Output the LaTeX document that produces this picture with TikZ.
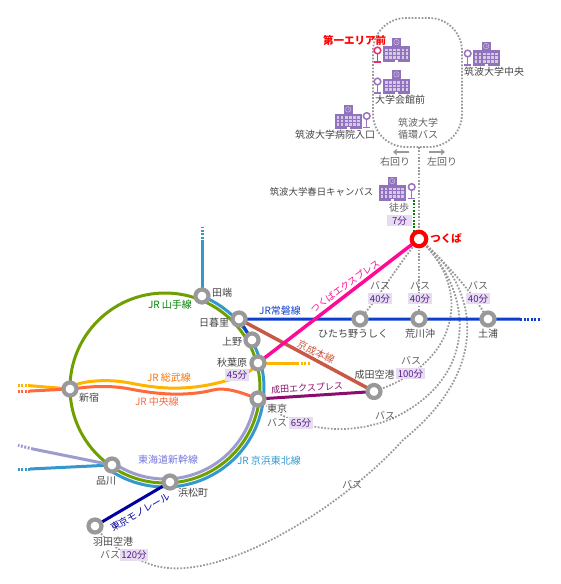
\documentclass[tikz,border=0pt]{standalone}
\usepackage{fontspec}
\setmainfont{Noto Sans CJK JP}
\usetikzlibrary{arrows.meta}
\pgfdeclarelayer{bg}
\pgfsetlayers{bg,main}
\definecolor{cgreen}{HTML}{6F9F00}
\definecolor{cblue}{HTML}{3399CC}
\definecolor{cshin}{HTML}{9C9CCF}
\definecolor{cjoban}{HTML}{0F3FCF}
\definecolor{ckei}{HTML}{C85A45}
\definecolor{csobu}{HTML}{FFB400}
\definecolor{cchuo}{HTML}{FF6A3C}
\definecolor{cnex}{HTML}{8B0B6E}
\definecolor{ctx}{HTML}{FF0A96}
\definecolor{cmono}{HTML}{0000A0}
\definecolor{cbuild}{HTML}{9172BC}
\definecolor{cstop}{HTML}{9A70C0}
\definecolor{cpink}{HTML}{E8306A}
\definecolor{cbox}{HTML}{E6DDF0}
\definecolor{cboxt}{HTML}{5A1A8A}
\definecolor{ctext}{HTML}{444444}
\definecolor{cdot}{HTML}{999999}
\tikzset{
  station/.style={circle,draw=cdot,fill=white,line width=4.2pt,minimum size=13pt,inner sep=0pt,outer sep=0pt},
  hub/.style={circle,draw=red,fill=white,line width=4.2pt,minimum size=14.5pt,inner sep=0pt,outer sep=0pt},
  lbl/.style={text=ctext,inner sep=0pt,font=\fontsize{10}{12}\selectfont},
  halo/.style={lbl,fill=white,inner sep=0.5pt},
  soft/.style={lbl,text=black!62},
  linelbl/.style={inner sep=0pt,font=\fontsize{10}{12}\selectfont},
  timebox/.style={fill=cbox,text=cboxt,inner sep=1.5pt,minimum height=11.5pt,font=\fontsize{9.5}{11}\selectfont},
  rail/.style={line width=3pt},
  busdot/.style={draw=cdot,line width=1.8pt,dash pattern=on 1.7pt off 1.6pt},
  raildash/.style={line width=3pt,dash pattern=on 2pt off 1.5pt},
  turn/.style={draw=cdot,line width=1.1pt,-{Straight Barb[length=3pt,width=5pt]}}
}
\newcommand{\bldg}[2]{%
  \begin{scope}[shift={(#1,#2)}]
    \fill[cbuild] (9,0) rectangle (17.5,9);
    \fill[cbuild] (0,8.5) rectangle (26.5,24);
    \draw[white!55!cbuild,line width=0.5pt] (13.2,4.4) circle (2.7);
    \draw[white!55!cbuild,line width=0.4pt] (13.2,2.6) -- (13.2,4.4) -- (14.6,5.2);
    \foreach \r in {11,14.7,18.4}
      \foreach \c in {1.8,5.9,10,14.1,18.2,22.3}
        \fill[white!62!cbuild] (\c,\r) rectangle ++(2.5,2.5);
    \fill[white] (11.5,22.2) rectangle (15,24);
  \end{scope}}
\newcommand{\stopmark}[3]{%
  \draw[#3,line width=1.5pt] (#1,#2+3) -- (#1,#2+11.5);
  \draw[#3,line width=1.5pt] (#1-3.5,#2+11.5) -- (#1+3.5,#2+11.5);
  \draw[#3,line width=1.5pt,fill=white] (#1,#2) circle (3.3);}
\begin{document}
\begin{tikzpicture}[x=1pt,y=-1pt]
\useasboundingbox (0,0) rectangle (560,584);

% stations
\node[station] (tabata) at (202,296) {};
\node[station] (nippori) at (239,319) {};
\node[station] (ueno) at (252,340) {};
\node[station] (akiba) at (258,363) {};
\node[station] (tokyo) at (258,399) {};
\node[station] (shinjuku) at (70,389) {};
\node[station] (shinagawa) at (112,465) {};
\node[station] (hamamatsu) at (170,482) {};
\node[station] (haneda) at (95,526) {};
\node[station] (narita) at (374,391.5) {};
\node[station] (hitachino) at (360,319) {};
\node[station] (arakawa) at (419,319) {};
\node[station] (tsuchiura) at (488,319) {};
\node[hub] (tsukuba) at (419,239) {};

% free ends
\coordinate (tabataN) at (202,242);
\coordinate (tabataE) at (202,227);
\coordinate (jobanE) at (520,319);
\coordinate (jobanF) at (541,319);
\coordinate (sobuW) at (30,385.7);
\coordinate (sobuF) at (18,385.7);
\coordinate (chuoW) at (30,391);
\coordinate (chuoF) at (18,391);
\coordinate (sobuE) at (297,363);
\coordinate (sobuG) at (310,363);
\coordinate (keihinW) at (30,469);
\coordinate (keihinF) at (18,469);
\coordinate (shinW) at (33,449);
\coordinate (shinF) at (18,445.3);
\coordinate (loopS) at (419,147);
\coordinate (walkN) at (414,200);
\coordinate (walkS) at (414,232);
\coordinate (rA) at (409,152);
\coordinate (rB) at (393,152);
\coordinate (lA) at (429,152);
\coordinate (lB) at (445,152);

\begin{pgfonlayer}{bg}
  % bus
  \draw[busdot,rounded corners=33pt] (373,18) rectangle (462,147);
  \draw[busdot] (loopS) -- (tsukuba);
  \draw[busdot] (tsukuba) .. controls (395,270) and (380,295) .. (hitachino);
  \draw[busdot] (tsukuba) -- (arakawa);
  \draw[busdot] (tsukuba) .. controls (445,262) and (470,290) .. (tsuchiura);
  \draw[busdot] (tsukuba) .. controls (470,290) and (460,360) .. (narita);
  \draw[busdot] (tsukuba) .. controls (470,290) and (480,370) .. (403,413) .. controls (370,432) and (310,440) .. (tokyo);
  \draw[busdot] (tsukuba) .. controls (480,290) and (490,370) .. (403,440) .. controls (340,510) and (210,590) .. (147,563) .. controls (125,555) and (110,545) .. (haneda);
  \draw[draw=green!50!black,line width=1.8pt,dash pattern=on 1.8pt off 1.5pt] (walkN) -- (walkS);

  % lines
  \draw[rail,cgreen] (165,388) circle (95);
  \draw[rail,cblue] plot[smooth,domain=-68:124.5,samples=70] ({165+99*cos(\x)},{388+99*sin(\x)});
  \draw[rail,cshin] plot[smooth,domain=7:122,samples=60] ({165+91*cos(\x)},{388+91*sin(\x)});
  \draw[rail,cblue] (tabata) -- (tabataN);
  \draw[raildash,cblue] (tabataN) -- (tabataE);
  \draw[rail,cblue] (shinagawa) -- (keihinW);
  \draw[raildash,cblue] (keihinW) -- (keihinF);
  \draw[rail,cshin] (shinagawa) -- (shinW);
  \draw[raildash,cshin] (shinW) -- (shinF);
  \draw[rail,cjoban] (ueno) -- (nippori) -- (jobanE);
  \draw[raildash,cjoban] (jobanE) -- (jobanF);
  \draw[line width=3.5pt,ckei] (nippori) -- (narita);
  \draw[line width=3pt,cnex] (tokyo) -- (narita);
  \draw[rail,csobu] (sobuW) -- (shinjuku);
  \draw[raildash,csobu] (sobuW) -- (sobuF);
  \draw[rail,cchuo] (chuoW) -- (shinjuku);
  \draw[raildash,cchuo] (chuoW) -- (chuoF);
  \draw[rail,csobu] (shinjuku) .. controls (80,382) and (105,378) .. (130,383) .. controls (155,388) and (180,391) .. (213,384) .. controls (235,379) and (248,374) .. (akiba);
  \draw[rail,csobu] (akiba) -- (sobuE);
  \draw[raildash,csobu] (sobuE) -- (sobuG);
  \draw[rail,cchuo] (shinjuku) .. controls (80,388) and (105,384) .. (130,389) .. controls (155,394) and (185,397) .. (213,390) .. controls (225,387) and (240,392) .. (tokyo);
  \draw[line width=3.5pt,ctx] (akiba) -- (tsukuba);
  \draw[line width=3pt,cmono] (hamamatsu) -- (haneda);
\end{pgfonlayer}

\draw[turn] (rA) -- (rB);
\draw[turn] (lA) -- (lB);

% campus buildings and stops
\bldg{383.3}{37.7}\stopmark{377.5}{50.5}{cpink}
\bldg{383.3}{70}\stopmark{377.5}{81.5}{cstop}
\bldg{473}{41.7}\stopmark{467.7}{53.5}{cstop}
\bldg{335}{105}\stopmark{366.7}{116}{cstop}
\bldg{379}{176.7}\stopmark{411.7}{187}{cstop}

% campus labels
\node[linelbl,text=red,font=\fontsize{10.5}{12}\bfseries\selectfont] (l1) at (354.5,40) {第一エリア前};
\node[lbl] (l2) at (400,100) {大学会館前};
\node[lbl] (l3) at (494,72) {筑波大学中央};
\node[lbl] (l4) at (335,135) {筑波大学病院入口};
\node[soft] (l5) at (418,123) {筑波大学};
\node[soft] (l6) at (418,135) {循環バス};
\node[soft] (l7) at (395,162) {右回り};
\node[soft] (l8) at (442,162) {左回り};
\node[lbl,font=\fontsize{9.4}{12}\selectfont] (l9) at (321.5,192) {筑波大学春日キャンパス};
\node[soft] (l10) at (399,208) {徒歩};
\node[timebox,minimum width=25pt] (t7) at (399.5,220.5) {7分};
\node[linelbl,text=red,font=\fontsize{10.5}{12}\bfseries\selectfont] (l11) at (446,238) {つくば};

% station labels
\node[lbl] (n1) at (222,293) {田端};
\node[lbl] (n2) at (214,323) {日暮里};
\node[lbl] (n3) at (232,342) {上野};
\node[lbl] (n4) at (232,363) {秋葉原};
\node[timebox] (t45) at (237,375) {45分};
\node[lbl] (n5) at (89,398) {新宿};
\node[halo] (n6) at (277,409) {東京};
\node[halo,text=black!62] (b65) at (277,422.5) {バス};
\node[timebox] (t65) at (301,423) {65分};
\node[lbl] (n7) at (353,334) {ひたち野うしく};
\node[lbl] (n8) at (420,334) {荒川沖};
\node[lbl] (n9) at (488,334) {土浦};
\node[lbl] (n10) at (374.5,375) {成田空港};
\node[lbl] (n11) at (106,481) {品川};
\node[lbl] (n12) at (193,493) {浜松町};
\node[halo] (n13) at (113,542) {羽田空港};
\node[halo,text=black!62] (b120) at (110,554.5) {バス};
\node[timebox] (t120) at (134,555) {120分};

% bus labels
\node[soft] (b1) at (380,286) {バス};
\node[timebox] (t1) at (380,298.5) {40分};
\node[soft] (b2) at (420,286) {バス};
\node[timebox] (t2) at (420,298.5) {40分};
\node[soft] (b3) at (478,286) {バス};
\node[timebox] (t3) at (478,298.5) {40分};
\node[soft] (b4) at (411,361) {バス};
\node[timebox] (t4) at (410.5,373.5) {100分};
\node[soft] (b5) at (385,416) {バス};
\node[soft] (b6) at (352,485) {バス};

% line labels
\node[linelbl,text=green!50!black] (r1) at (170,305) {JR 山手線};
\node[linelbl,text=orange!90!red] (r2) at (169,378) {JR 総武線};
\node[linelbl,text=cchuo] (r3) at (157,402) {JR 中央線};
\node[linelbl,text=cjoban] (r4) at (280,311) {JR常磐線};
\node[linelbl,text=ctx,rotate=36,font=\fontsize{9.2}{12}\selectfont] (r5) at (345,286) {つくばエクスプレス};
\node[linelbl,text=ckei,rotate=-26] (r6) at (316,352) {京成本線};
\node[linelbl,text=cnex,rotate=3,font=\fontsize{9}{12}\selectfont] (r7) at (307,388) {成田エクスプレス};
\node[linelbl,text=cshin!75!blue] (r8) at (168,460) {東海道新幹線};
\node[linelbl,text=cblue] (r9) at (269,461) {JR 京浜東北線};
\node[linelbl,text=cmono,rotate=30,font=\fontsize{9.5}{12}\selectfont] (r10) at (140,512) {東京モノレール};
\end{tikzpicture}
\end{document}
